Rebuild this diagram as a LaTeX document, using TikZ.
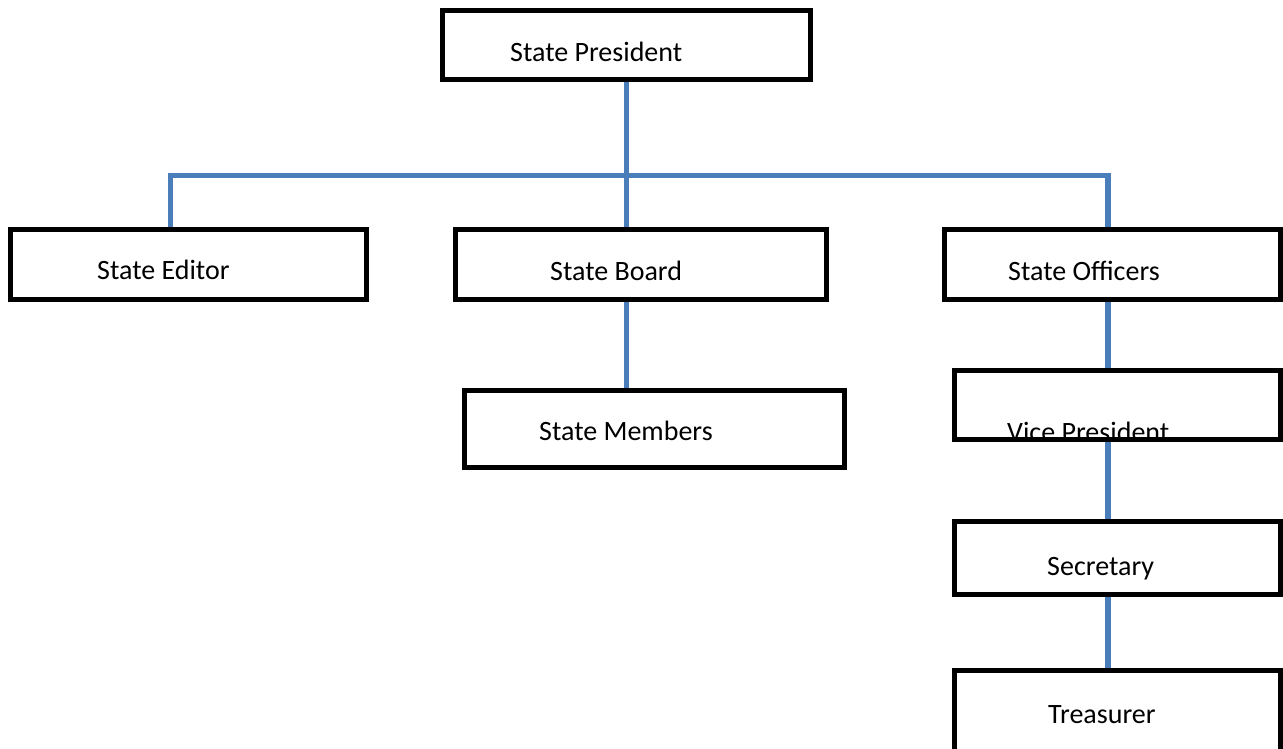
\documentclass[tikz,border=0pt]{standalone}
\usepackage{fontspec}
\setmainfont{Carlito}
\definecolor{linkblue}{RGB}{74,126,187}

\begin{document}
\begin{tikzpicture}[x=1pt,y=-1pt,
	box/.style={draw=black,line width=5.5pt,inner sep=0pt,outer sep=0pt},
	link/.style={draw=linkblue,line width=5.5pt,shorten <=2.75pt,shorten >=2.75pt},
	title/.style={anchor=base west,inner sep=0pt}]
					\clip (0,0) rectangle (1283,749);
					\tikzstyle{every node}=[font=\fontsize{28}{34}\selectfont];
					% texts
					\path (510,62) node[title] (tpres) {State President};
					\path (97,279) node[title] (tedit) {State Editor};
					\path (550,280) node[title] (tboard) {State Board};
					\path (1008,280) node[title] (toff) {State Officers};
					\path (539,440) node[title] (tmem) {State Members};
					\path (1007,441) node[title] (tvp) {Vice President};
					\path (1047,575) node[title] (tsec) {Secretary};
					\path (1048,723) node[title] (ttreas) {Treasurer};
					% boxes
					\path (626.5,45) node[box,minimum width=368pt,minimum height=69pt] (pres) {};
					\path (188.5,264.5) node[box,minimum width=356pt,minimum height=70pt] (edit) {};
					\path (641,264.5) node[box,minimum width=371pt,minimum height=70pt] (board) {};
					\path (1112.5,264.5) node[box,minimum width=336pt,minimum height=70pt] (off) {};
					\path (654.5,429) node[box,minimum width=380pt,minimum height=77pt] (mem) {};
					\path (1117.5,405) node[box,minimum width=326pt,minimum height=69pt] (vp) {};
					\path (1117.5,558) node[box,minimum width=326pt,minimum height=73pt] (sec) {};
					\path (1117.5,730) node[box,minimum width=326pt,minimum height=119pt] (treas) {};
					% links
					\coordinate (barL) at (170.5,175.5);
					\coordinate (barR) at (1108,175.5);
					\draw[link] (pres.south) -- (board.north -| pres.south);
					\draw[link] (edit.north -| barL) -- (barL) -- (barR) -- (off.north -| barR);
					\draw[link] (board.south -| pres.south) -- (mem.north -| pres.south);
					\draw[link] (off.south -| barR) -- (vp.north -| barR);
					\draw[link] (vp.south -| barR) -- (sec.north -| barR);
					\draw[link] (sec.south -| barR) -- (treas.north -| barR);
					\end{tikzpicture}
\end{document}
